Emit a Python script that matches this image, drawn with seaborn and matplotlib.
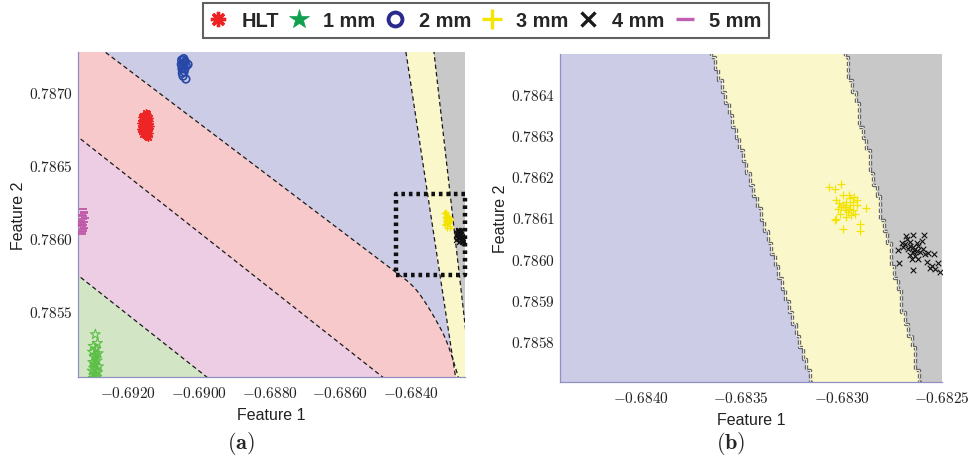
import numpy as np
import matplotlib
matplotlib.use("Agg")
import matplotlib.pyplot as plt
from matplotlib.colors import ListedColormap
from matplotlib.lines import Line2D
import seaborn as sns

# ---------------- data ----------------
classes = ["HLT", "1 mm", "2 mm", "3 mm", "4 mm", "5 mm"]

# decision-region boundaries (Feature 1, Feature 2)
bnd_1mm_5mm_x = [-0.6940, -0.6820]
bnd_1mm_5mm_y = [0.785858, 0.783560]
bnd_5mm_hlt_x = [-0.6940, -0.6820]
bnd_5mm_hlt_y = [0.786806, 0.784513]
bnd_hlt_2mm_x = [-0.6940, -0.684596, -0.683946, -0.683692, -0.683466, -0.683184, -0.682901, -0.682675, -0.6820]
bnd_hlt_2mm_y = [0.787524, 0.785798, 0.785679, 0.785600, 0.785511, 0.785395, 0.785259, 0.785054, 0.7845]
bnd_2mm_3mm_y = [0.7840, 0.7880]
bnd_2mm_3mm_x = [-0.682077, -0.684597]
bnd_3mm_4mm_y = [0.7840, 0.7880]
bnd_3mm_4mm_x = [-0.681809, -0.683689]

hlt_x = [-0.69158, -0.69145, -0.69152, -0.69140, -0.69162, -0.69148, -0.69155, -0.69138, -0.69160, -0.69150,
         -0.69143, -0.69157, -0.69147, -0.69153, -0.69141, -0.69159, -0.69149, -0.69144, -0.69156, -0.69151,
         -0.69146, -0.69139, -0.69163, -0.69152, -0.69148]
hlt_y = [0.78684, 0.78685, 0.78682, 0.78680, 0.78679, 0.78678, 0.78676, 0.78677, 0.78674, 0.78673,
         0.78675, 0.78671, 0.78670, 0.78681, 0.78672, 0.78683, 0.78686, 0.78669, 0.78678, 0.78680,
         0.78676, 0.78682, 0.78675, 0.78671, 0.78684]

mm1_x = [-0.69292, -0.69286, -0.69298, -0.69290, -0.69300, -0.69284, -0.69295, -0.69291, -0.69287, -0.69299,
         -0.69293, -0.69283, -0.69297, -0.69289, -0.69301, -0.69285, -0.69292, -0.69296, -0.69288, -0.69298,
         -0.69290, -0.69294]
mm1_y = [0.78534, 0.78528, 0.78526, 0.78524, 0.78522, 0.78521, 0.78519, 0.78518, 0.78516, 0.78515,
         0.78513, 0.78512, 0.78511, 0.78510, 0.78509, 0.78508, 0.78507, 0.78506, 0.78505, 0.78504,
         0.78520, 0.78514]

mm2_x = [-0.69048, -0.69042, -0.69040, -0.69045, -0.69038, -0.69044, -0.69047, -0.69041, -0.69035, -0.69046,
         -0.69043, -0.69039, -0.69049, -0.69044, -0.69030, -0.69036]
mm2_y = [0.78722, 0.78723, 0.78720, 0.78719, 0.78721, 0.78717, 0.78716, 0.78714, 0.78718, 0.78713,
         0.78722, 0.78716, 0.78719, 0.78711, 0.78719, 0.78709]

mm3_x = [-0.683063, -0.683033, -0.683003, -0.682992, -0.682963, -0.682938, -0.683025, -0.682975, -0.682925,
         -0.682878, -0.683017, -0.682983, -0.682958, -0.682942, -0.683008, -0.682967, -0.682933, -0.683028,
         -0.682975, -0.682950, -0.683033, -0.682908, -0.682992, -0.682908, -0.683000, -0.682958, -0.682978,
         -0.682925, -0.682990, -0.682960, -0.683010, -0.682945]
mm3_y = [0.786173, 0.786170, 0.786181, 0.786154, 0.786154, 0.786150, 0.786142, 0.786138, 0.786142,
         0.786123, 0.786121, 0.786125, 0.786130, 0.786117, 0.786109, 0.786113, 0.786109, 0.786097,
         0.786101, 0.786105, 0.786093, 0.786085, 0.786071, 0.786066, 0.786125, 0.786146, 0.786117,
         0.786130, 0.786130, 0.786120, 0.786135, 0.786138]

mm4_x = [-0.682678, -0.682642, -0.682587, -0.682700, -0.682683, -0.682658, -0.682625, -0.682600, -0.682717,
         -0.682695, -0.682667, -0.682642, -0.682617, -0.682592, -0.682567, -0.682542, -0.682658, -0.682642,
         -0.682625, -0.682608, -0.682712, -0.682650, -0.682633, -0.682575, -0.682550, -0.682522, -0.682645,
         -0.682558, -0.682533, -0.682508, -0.682583, -0.682675, -0.682660, -0.682640, -0.682620]
mm4_y = [0.786055, 0.786057, 0.786057, 0.786037, 0.786035, 0.786040, 0.786037, 0.786043, 0.786021,
         0.786027, 0.786023, 0.786027, 0.786031, 0.786024, 0.786013, 0.786010, 0.786008, 0.786015,
         0.786019, 0.786015, 0.785990, 0.786000, 0.786005, 0.785992, 0.785982, 0.785989, 0.785972,
         0.785976, 0.785974, 0.785967, 0.786010, 0.786047, 0.786030, 0.786020, 0.786000]

mm5_x = [-0.69328, -0.69325, -0.69330, -0.69322, -0.69327, -0.69332, -0.69324, -0.69329, -0.69326, -0.69331,
         -0.69323, -0.69328, -0.69326, -0.69330, -0.69325, -0.69329, -0.69327, -0.69333]
mm5_y = [0.78620, 0.78618, 0.78616, 0.78614, 0.78613, 0.78612, 0.78611, 0.78610, 0.78609, 0.78608,
         0.78607, 0.78606, 0.78605, 0.78604, 0.78617, 0.78603, 0.78615, 0.78611]

zoom_box = [-0.68441, -0.68247, 0.78575, 0.78630]  # x0, x1, y0, y1

xlim_a = [-0.69341, -0.68247]
ylim_a = [0.785048, 0.787275]
xlim_b = [-0.6844, -0.6825]
ylim_b = [0.78570, 0.786497]

xticks_a = [-0.6920, -0.6900, -0.6880, -0.6860, -0.6840]
xticklabels_a = ["-0.6920", "-0.6900", "-0.6880", "-0.6860", "-0.6840"]
yticks_a = [0.7855, 0.7860, 0.7865, 0.7870]
yticklabels_a = ["0.7855", "0.7860", "0.7865", "0.7870"]
xticks_b = [-0.6840, -0.6835, -0.6830, -0.6825]
xticklabels_b = ["-0.6840", "-0.6835", "-0.6830", "-0.6825"]
yticks_b = [0.7858, 0.7859, 0.7860, 0.7861, 0.7862, 0.7863, 0.7864]
yticklabels_b = ["0.7858", "0.7859", "0.7860", "0.7861", "0.7862", "0.7863", "0.7864"]

# ---------------- style ----------------
sns.set_theme(style="white")
plt.rcParams["font.family"] = ["Liberation Sans", "DejaVu Sans"]
plt.rcParams["mathtext.fontset"] = "cm"
plt.rcParams["lines.scale_dashes"] = False

# region order: 0=1mm, 1=5mm, 2=HLT, 3=2mm, 4=3mm, 5=4mm
region_colors = ["#D2E6C6", "#ECCDE4", "#F8C9CA", "#CDCCE6", "#FAF8CB", "#C8C8C8"]
cmap = ListedColormap(region_colors)

point_colors = {"HLT": "#EE2525", "1 mm": "#5CBF46", "2 mm": "#2848A8",
                "3 mm": "#F2E400", "4 mm": "#111111", "5 mm": "#C057A8"}
legend_colors = {"HLT": "#EE2222", "1 mm": "#10A050", "2 mm": "#2A2A8C",
                 "3 mm": "#F5E600", "4 mm": "#1A1A1A", "5 mm": "#C060B0"}


def classify(X, Y, full=True):
    lab = np.full(X.shape, 3)
    if full:
        lab = np.zeros(X.shape, dtype=int)
        lab[Y > np.interp(X, bnd_1mm_5mm_x, bnd_1mm_5mm_y)] = 1
        lab[Y > np.interp(X, bnd_5mm_hlt_x, bnd_5mm_hlt_y)] = 2
        lab[Y > np.interp(X, bnd_hlt_2mm_x, bnd_hlt_2mm_y)] = 3
    lab[X > np.interp(Y, bnd_2mm_3mm_y, bnd_2mm_3mm_x)] = 4
    lab[X > np.interp(Y, bnd_3mm_4mm_y, bnd_3mm_4mm_x)] = 5
    return lab


fig = plt.figure(figsize=(9.7, 4.64), dpi=100)
axa = fig.add_axes([0.0804, 0.1853, 0.399, 0.7004])
axb = fig.add_axes([0.5773, 0.1746, 0.3938, 0.7069])

# ---------------- panel (a) ----------------
gx = np.linspace(xlim_a[0], xlim_a[1], 1000)
gy = np.linspace(ylim_a[0], ylim_a[1], 700)
GX, GY = np.meshgrid(gx, gy)
axa.pcolormesh(gx, gy, classify(GX, GY), cmap=cmap, vmin=-0.5, vmax=5.5,
               shading="nearest", rasterized=True)

# smooth the curved HLT / 2 mm boundary for drawing
curve_x = np.linspace(bnd_hlt_2mm_x[0], bnd_hlt_2mm_x[-1], 600)
curve_y = np.interp(curve_x, bnd_hlt_2mm_x, bnd_hlt_2mm_y)
kern = np.ones(25) / 25
curve_y_s = np.convolve(np.pad(curve_y, 12, mode="edge"), kern, mode="valid")

dash_a = dict(color="#1a1a1a", lw=0.9, dashes=(3.2, 2.2))
axa.plot(bnd_1mm_5mm_x, bnd_1mm_5mm_y, **dash_a)
axa.plot(bnd_5mm_hlt_x, bnd_5mm_hlt_y, **dash_a)
axa.plot(curve_x, curve_y_s, **dash_a)
axa.plot(bnd_2mm_3mm_x, bnd_2mm_3mm_y, **dash_a)
axa.plot(bnd_3mm_4mm_x, bnd_3mm_4mm_y, **dash_a)

sns.scatterplot(x=mm5_x, y=mm5_y, marker="_", s=40, linewidth=1.3, color=point_colors["5 mm"], ax=axa, zorder=3)
sns.scatterplot(x=mm1_x, y=mm1_y, marker="*", s=55, linewidth=0.8, color=point_colors["1 mm"],
                edgecolor=point_colors["1 mm"], ax=axa, zorder=3)
axa.collections[-1].set_facecolor("none")
sns.scatterplot(x=hlt_x, y=hlt_y, marker=(8, 2, 0), s=30, linewidth=1.0, color=point_colors["HLT"], ax=axa, zorder=3)
sns.scatterplot(x=mm2_x, y=mm2_y, marker="o", s=30, linewidth=1.2, color=point_colors["2 mm"],
                edgecolor=point_colors["2 mm"], ax=axa, zorder=3)
axa.collections[-1].set_facecolor("none")
sns.scatterplot(x=mm3_x, y=mm3_y, marker="+", s=14, linewidth=0.9, color=point_colors["3 mm"], ax=axa, zorder=3)
sns.scatterplot(x=mm4_x, y=mm4_y, marker="x", s=12, linewidth=0.9, color=point_colors["4 mm"], ax=axa, zorder=3)

bx0, bx1, by0, by1 = zoom_box
axa.plot([bx0, bx1, bx1, bx0, bx0], [by0, by0, by1, by1, by0], color="#111111", lw=3.2,
         dashes=(2.6, 2.8), solid_capstyle="butt", dash_capstyle="butt", clip_on=False, zorder=4)

axa.set_xlim(xlim_a)
axa.set_ylim(ylim_a)
axa.set_xticks(xticks_a)
axa.set_xticklabels([f"${t}$" for t in xticklabels_a])
axa.set_yticks(yticks_a)
axa.set_yticklabels([f"${t}$" for t in yticklabels_a])

# ---------------- panel (b) ----------------
cell_dx = 0.0000175
cell_dy = 0.0000282
bx_edges = np.arange(xlim_b[0] - cell_dx, xlim_b[1] + 2 * cell_dx, cell_dx)
by_edges = np.arange(ylim_b[0] - cell_dy, ylim_b[1] + 2 * cell_dy, cell_dy)
bxc = (bx_edges[:-1] + bx_edges[1:]) / 2
byc = (by_edges[:-1] + by_edges[1:]) / 2
BX, BY = np.meshgrid(bxc, byc)
axb.pcolormesh(bx_edges, by_edges, classify(BX, BY, full=False), cmap=cmap, vmin=-0.5, vmax=5.5,
               shading="flat", rasterized=True)

ys_step = np.column_stack([by_edges[:-1], by_edges[1:]]).ravel()
for bys, bxs in [(bnd_2mm_3mm_y, bnd_2mm_3mm_x), (bnd_3mm_4mm_y, bnd_3mm_4mm_x)]:
    k = np.searchsorted(bxc, np.interp(byc, bys, bxs))
    xs_step = np.repeat(bx_edges[k], 2)
    axb.plot(xs_step, ys_step, color="#606060", lw=2.4, dashes=(3.0, 1.6), zorder=2)
    axb.plot(xs_step, ys_step, color="#e4e4dc", lw=0.8, dashes=(3.0, 1.6), zorder=2)

sns.scatterplot(x=mm3_x, y=mm3_y, marker="+", s=40, linewidth=0.9, color=point_colors["3 mm"], ax=axb, zorder=3)
sns.scatterplot(x=mm4_x, y=mm4_y, marker="x", s=16, linewidth=0.8, color=point_colors["4 mm"], ax=axb, zorder=3)

axb.set_xlim(xlim_b)
axb.set_ylim(ylim_b)
axb.set_xticks(xticks_b)
axb.set_xticklabels([f"${t}$" for t in xticklabels_b])
axb.set_yticks(yticks_b)
axb.set_yticklabels([f"${t}$" for t in yticklabels_b])

# ---------------- axes cosmetics ----------------
for ax in (axa, axb):
    for s in ("top", "right"):
        ax.spines[s].set_visible(False)
    for s in ("left", "bottom"):
        ax.spines[s].set_color("#9090c0")
        ax.spines[s].set_linewidth(0.9)
    ax.tick_params(axis="both", direction="in", length=3.5, width=0.8, color="#7070b0",
                   labelsize=11, labelcolor="#222222")
    ax.tick_params(axis="x", pad=6)
    ax.tick_params(axis="y", pad=3.5)
    ax.set_xlabel("Feature 1", fontsize=11.5, labelpad=5, color="#222222")
    ax.set_ylabel("Feature 2", fontsize=11.5, labelpad=2, color="#222222")

fig.text(241 / 970, 1 - 444 / 464, r"$\mathbf{(a)}$", fontsize=16, ha="center", va="center")
fig.text(731 / 970, 1 - 444 / 464, r"$\mathbf{(b)}$", fontsize=16, ha="center", va="center")

# ---------------- legend ----------------
legend_markers = {"HLT": (8, 2, 0), "1 mm": "*", "2 mm": "o", "3 mm": "+", "4 mm": "x", "5 mm": "_"}
legend_sizes = {"HLT": 11, "1 mm": 15, "2 mm": 10, "3 mm": 14, "4 mm": 10, "5 mm": 13}
handles = []
for c in classes:
    m = legend_markers[c]
    if c == "2 mm":
        h = Line2D([], [], linestyle="none", marker=m, markersize=legend_sizes[c], markerfacecolor="none",
                   markeredgecolor=legend_colors[c], markeredgewidth=2.8)
    elif c == "1 mm":
        h = Line2D([], [], linestyle="none", marker=m, markersize=legend_sizes[c], markerfacecolor=legend_colors[c],
                   markeredgecolor=legend_colors[c], markeredgewidth=0.5)
    else:
        h = Line2D([], [], linestyle="none", marker=m, markersize=legend_sizes[c], color=legend_colors[c],
                   markeredgewidth=2.4)
    handles.append(h)

leg = fig.legend(handles, classes, loc="upper center", bbox_to_anchor=(485.8 / 970, 1 - 4 / 464), ncol=6,
                 frameon=True, fancybox=False, edgecolor="#3a3a3a", handlelength=0.7, handletextpad=0.85,
                 columnspacing=0.65, borderpad=0.4, borderaxespad=0.0,
                 prop={"family": "Liberation Sans", "weight": "bold", "size": 14.4})
leg.get_frame().set_linewidth(1.5)
leg.get_frame().set_facecolor("white")

fig.savefig("out.png", dpi=100, facecolor="white")
